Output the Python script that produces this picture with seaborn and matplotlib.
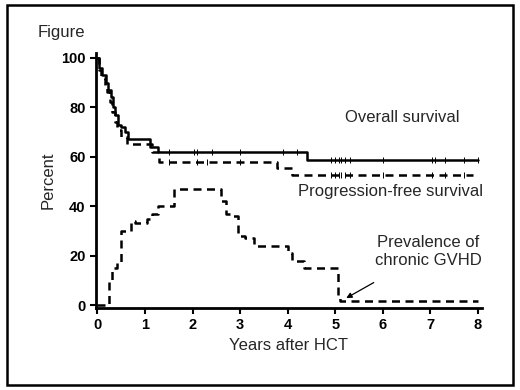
import numpy as np
import matplotlib
matplotlib.use("Agg")
import matplotlib.pyplot as plt
from matplotlib.patches import Rectangle
import seaborn as sns

sns.set_style("ticks")
plt.rcParams['font.family'] = ['Liberation Sans', 'DejaVu Sans']

# Overall survival (step curve)
os_t = [0, 0.04, 0.1, 0.17, 0.22, 0.28, 0.33, 0.38, 0.43, 0.5, 0.59, 0.65, 1.11, 1.28, 4.41, 8.0]
os_v = [100, 96, 93, 90, 87, 84, 80, 77, 73, 72, 70, 67, 64, 62, 58.5, 58.5]
os_cens = [1.5, 2.04, 2.1, 2.4, 3.0, 3.9, 4.2, 4.9, 5.0, 5.07, 5.13, 5.2, 5.3, 6.0, 7.04, 7.1, 7.3, 7.7, 8.0]

# Progression-free survival
pfs_t = [0, 0.03, 0.08, 0.15, 0.2, 0.26, 0.31, 0.36, 0.42, 0.5, 0.62, 1.15, 1.3, 3.78, 4.1, 7.9]
pfs_v = [100, 95, 92, 89, 86, 82, 78, 74, 71, 68, 65, 62, 58, 55.5, 52.5, 52.5]
pfs_cens = [1.5, 2.1, 2.3, 3.0, 4.9, 5.0, 5.07, 5.13, 5.2, 5.3, 6.0, 7.04, 7.3, 7.7]

# Prevalence of chronic GVHD
gv_t = [0, 0.25, 0.3, 0.42, 0.5, 0.7, 0.8, 1.05, 1.15, 1.28, 1.62, 2.6, 2.7, 2.8, 2.95, 3.1, 3.3, 4.0, 4.1, 4.35, 5.05, 5.1, 8.0]
gv_v = [0, 10, 15, 17, 30, 34, 33, 35, 37, 40, 47, 42, 37, 36, 28, 27, 24, 21, 18, 15, 3, 1.5, 1.5]

x_ticks = [0, 1, 2, 3, 4, 5, 6, 7, 8]
y_ticks = [0, 20, 40, 60, 80, 100]


def step_at(t, xs, ys):
    idx = np.searchsorted(xs, t, side="right") - 1
    return np.asarray(ys)[idx]


fig = plt.figure(figsize=(5.2, 3.9), dpi=100)
ax = fig.add_axes([0.1846, 0.2103, 0.742, 0.654])

dash = (0, (3.2, 2.2))
sns.lineplot(x=os_t, y=os_v, ax=ax, drawstyle="steps-post", color="black",
             lw=1.8, estimator=None, sort=False)
sns.lineplot(x=pfs_t, y=pfs_v, ax=ax, drawstyle="steps-post", color="black",
             lw=1.8, ls=dash, estimator=None, sort=False)
sns.lineplot(x=gv_t, y=gv_v, ax=ax, drawstyle="steps-post", color="black",
             lw=1.8, ls=dash, estimator=None, sort=False)

sns.scatterplot(x=os_cens, y=step_at(os_cens, os_t, os_v), ax=ax, marker="|",
                color="black", s=18, linewidth=0.7)
sns.scatterplot(x=pfs_cens, y=step_at(pfs_cens, pfs_t, pfs_v), ax=ax, marker="|",
                color="black", s=18, linewidth=0.7)

ax.set_xlim(-0.03, 8.08)
ax.set_ylim(-1.2, 102)
ax.set_xticks(x_ticks)
ax.set_yticks(y_ticks)
for lab in ax.get_xticklabels() + ax.get_yticklabels():
    lab.set_fontweight("bold")
ax.tick_params(labelsize=10.5, width=1.5, length=4, colors="black")
for side in ["top", "right"]:
    ax.spines[side].set_visible(False)
for side in ["left", "bottom"]:
    ax.spines[side].set_linewidth(2)
    ax.spines[side].set_color("black")

ax.set_xlabel("Years after HCT", fontsize=12)
ax.set_ylabel("Percent", fontsize=12)

ax.text(6.4, 75.7, "Overall survival", ha="center", va="center", fontsize=12)
ax.text(6.16, 45.8, "Progression-free survival", ha="center", va="center", fontsize=12)
ax.annotate("Prevalence of\nchronic GVHD", xy=(5.23, 2.8), xytext=(6.95, 21.5),
            ha="center", va="center", fontsize=12, linespacing=1.25,
            arrowprops=dict(arrowstyle="-|>", color="black", lw=0.9,
                            shrinkA=16, shrinkB=0, mutation_scale=8))

fig.text(38 / 520, 1 - 33 / 390, "Figure", ha="left", va="center", fontsize=12)
fig.patches.append(Rectangle((7 / 520, 5 / 390), 506 / 520, 380 / 390,
                             transform=fig.transFigure, fill=False,
                             edgecolor="black", lw=1.8))

fig.savefig("out.png", dpi=100)
